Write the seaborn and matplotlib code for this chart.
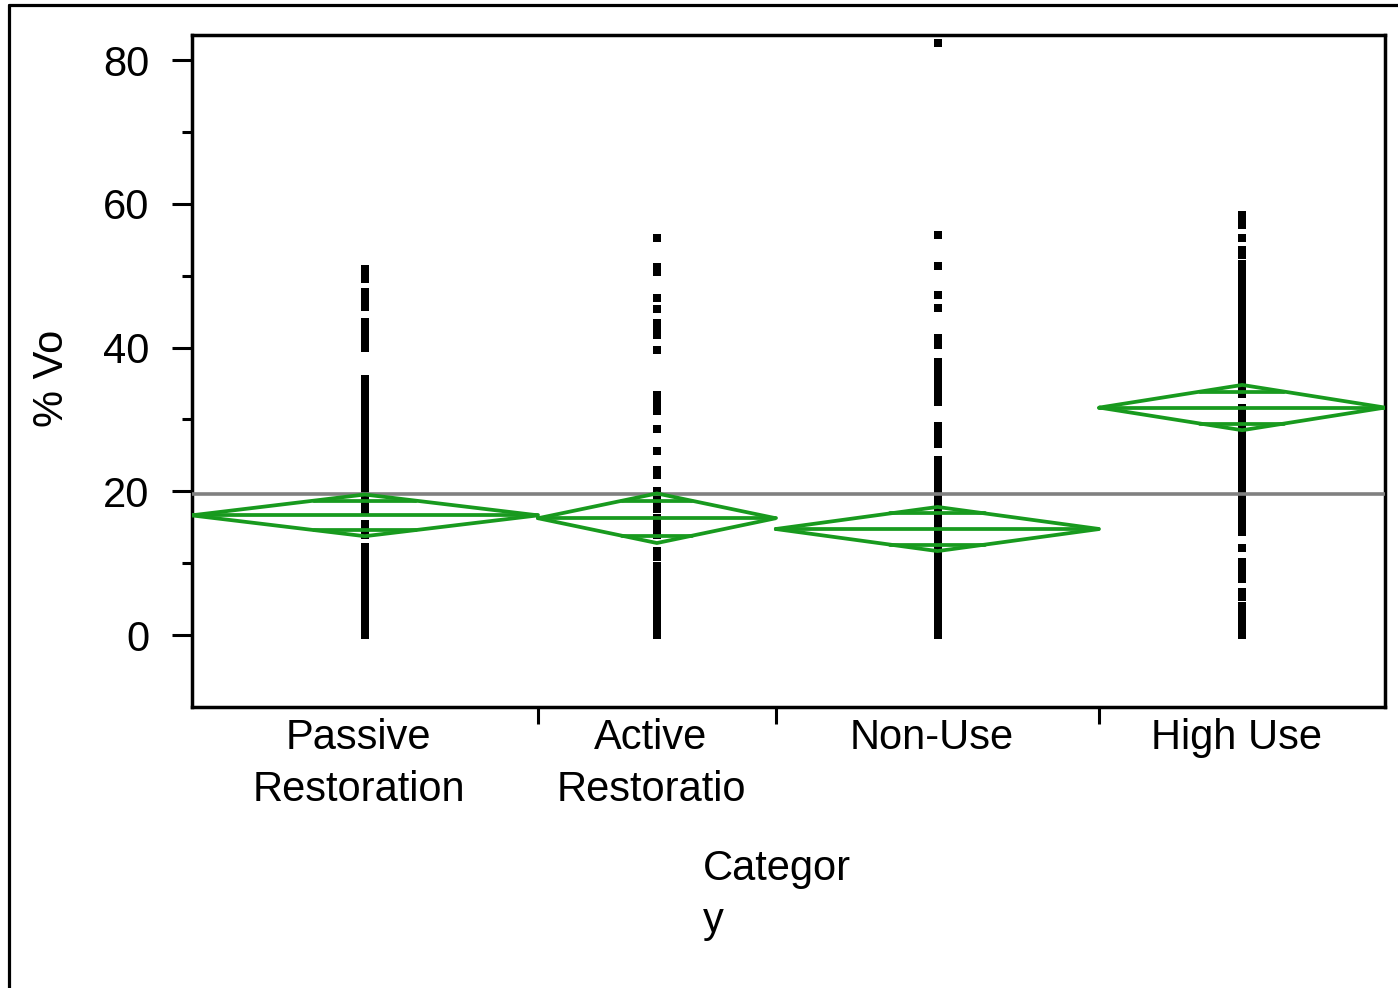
import numpy as np
import pandas as pd
import matplotlib
matplotlib.use("Agg")
import matplotlib.pyplot as plt
import matplotlib.transforms as mtransforms
from matplotlib.lines import Line2D
from matplotlib.ticker import FixedLocator, FixedFormatter
import seaborn as sns

# ---------------- data ----------------
categories = ["Passive\nRestoration", "Active\nRestoratio", "Non-Use", "High Use"]
group_n = [347, 238, 324, 286]            # relative group sizes (diamond widths)
group_means = [16.65, 16.25, 14.75, 31.65]
ci_half = [2.9, 3.45, 3.07, 3.15]
grand_mean = 19.65

passive_vals = [50.9, 50.3, 49.6, 47.7, 47.0, 46.3, 45.6, 43.5, 42.8, 42.0, 41.3,
                40.6, 40.0, 35.6, 34.8, 34.0, 33.2, 32.4, 31.6, 30.8, 30.0, 29.2,
                28.4, 27.6, 26.8, 26.0, 25.2, 24.4, 23.6, 22.8, 22.0, 21.2, 20.4,
                19.6, 18.8, 18.0, 17.2, 15.4, 14.6, 13.9, 12.3, 11.5, 10.7, 9.9,
                9.2, 8.3, 7.5, 6.7, 5.9, 5.1, 4.3, 3.5, 2.7, 1.9, 1.1, 0.3, 0.0]
active_vals = [55.2, 51.2, 50.5, 46.9, 45.3, 43.4, 42.6, 41.8, 39.6, 33.4, 32.6,
               31.9, 31.2, 28.7, 25.6, 23.0, 22.2, 20.0, 19.2, 18.4, 17.6, 16.3,
               15.5, 14.7, 13.9, 11.7, 10.8, 9.6, 8.8, 8.0, 7.2, 6.4, 5.6, 4.8,
               4.0, 3.2, 2.4, 1.6, 0.8, 0.0]
nonuse_vals = [82.4, 55.6, 51.4, 47.3, 45.5, 41.3, 40.3, 38.0, 37.2, 36.4, 35.6,
               34.8, 34.0, 33.2, 32.4, 29.1, 28.3, 27.5, 26.6, 24.3, 23.3, 22.1,
               21.3, 20.5, 19.7, 18.9, 18.1, 17.3, 16.5, 15.7, 14.9, 14.1, 13.3,
               12.5, 11.7, 10.9, 10.1, 9.3, 8.5, 7.7, 6.9, 6.1, 5.3, 4.5, 3.4,
               2.6, 1.8, 1.0, 0.2, 0.0]
highuse_vals = [58.4, 57.6, 57.0, 55.2, 53.6, 52.9, 51.6, 50.9, 50.2, 49.6, 48.8,
                48.0, 47.2, 46.4, 45.6, 44.8, 44.0, 43.2, 42.4, 41.6, 40.8, 40.0,
                39.2, 38.4, 37.6, 36.8, 36.0, 35.2, 34.4, 33.6, 31.6, 30.8, 30.0,
                29.2, 28.4, 27.6, 26.8, 26.0, 25.2, 24.4, 23.2, 22.4, 21.6, 20.8,
                20.0, 19.2, 18.4, 17.6, 16.8, 16.0, 15.2, 14.4, 12.1, 10.2, 9.4,
                8.6, 7.8, 6.0, 5.3, 4.1, 3.3, 2.5, 1.7, 0.9, 0.1, 0.0]
all_vals = [passive_vals, active_vals, nonuse_vals, highuse_vals]

y_major = [0, 20, 40, 60, 80]
y_minor = [-10, 10, 30, 50, 70]

# ---------------- layout helpers ----------------
lefts = np.concatenate([[0], np.cumsum(group_n)[:-1]])
rights = np.cumsum(group_n)
centers = (lefts + rights) / 2.0
total = float(np.sum(group_n))

rows = []
for c, vals in zip(centers, all_vals):
    for v in vals:
        rows.append({"x": c, "y": v})
df = pd.DataFrame(rows)

sns.set_theme(style="white")
plt.rcParams["font.family"] = ["Liberation Sans", "DejaVu Sans"]

W, H = 1398, 988
fig = plt.figure(figsize=(W / 100, H / 100), dpi=100)
ax_l, ax_r, ax_t, ax_b = 191.5, 1385, 35, 706.5
ax = fig.add_axes([ax_l / W, 1 - ax_b / H, (ax_r - ax_l) / W, (ax_b - ax_t) / H])

sns.scatterplot(data=df, x="x", y="y", marker="s", color="black", s=30,
                linewidth=0, ax=ax, zorder=2, legend=False)

ax.axhline(grand_mean, color="#808080", lw=2.6, zorder=3)

green = "#189a1e"
lw_g = 2.7
k = 1 - 1 / np.sqrt(2)
for L, R, c, m, ci in zip(lefts, rights, centers, group_means, ci_half):
    ax.plot([L, c, R, c, L], [m, m + ci, m, m - ci, m], color=green, lw=lw_g,
            zorder=4, solid_joinstyle="miter")
    ax.plot([L, R], [m, m], color=green, lw=lw_g, zorder=4)
    hw = (R - L) / 2 * k
    for s in (1, -1):
        ax.plot([c - hw, c + hw], [m + s * ci / np.sqrt(2)] * 2, color=green,
                lw=lw_g, zorder=4)

ax.set_xlim(0, total)
ax.set_ylim(-9.95, 83.5)

for sp in ax.spines.values():
    sp.set_visible(True)
    sp.set_color("black")
    sp.set_linewidth(2.5)

ax.yaxis.set_major_locator(FixedLocator(y_major))
ax.yaxis.set_minor_locator(FixedLocator(y_minor))
ax.set_yticklabels([str(v) for v in y_major])
ax.tick_params(axis="y", which="major", direction="out", length=14.5, width=2.2,
               color="black", labelsize=30, pad=16, left=True, labelcolor="black")
ax.tick_params(axis="y", which="minor", direction="out", length=7.2, width=2.2,
               color="black", left=True)

ax.xaxis.set_major_locator(FixedLocator(list(rights[:-1])))
ax.xaxis.set_minor_locator(FixedLocator(list(centers)))
ax.set_xticklabels([""] * (len(rights) - 1))
ax.xaxis.set_minor_formatter(FixedFormatter(categories))
ax.tick_params(axis="x", which="major", direction="out", length=12, width=2.2,
               color="black", bottom=True)
ax.tick_params(axis="x", which="minor", length=0, labelsize=30, pad=8,
               bottom=True, labelcolor="black")
off = mtransforms.ScaledTranslation(-6 / 100, 0, fig.dpi_scale_trans)
for lbl in ax.xaxis.get_minorticklabels():
    lbl.set_linespacing(1.4)
    lbl.set_multialignment("center")
    lbl.set_transform(lbl.get_transform() + off)

ax.set_ylabel("% Vo", fontsize=30, color="black")
ax.yaxis.label.set_va("center")
ax.yaxis.set_label_coords((52 - ax_l) / (ax_r - ax_l), (ax_b - 378) / (ax_b - ax_t))

ax.set_xlabel("Categor\ny", fontsize=30, color="black", linespacing=1.4,
              ha="left", multialignment="left")
ax.xaxis.set_label_coords((703 - ax_l) / (ax_r - ax_l), -(849 - ax_b) / (ax_b - ax_t))

ax.grid(False)

# outer frame (top and left edges visible)
fig.add_artist(Line2D([9 / W, 1.02], [1 - 5.5 / H, 1 - 5.5 / H], color="black",
                      lw=2.3, transform=fig.transFigure))
fig.add_artist(Line2D([9 / W, 9 / W], [1 - 5.5 / H, -0.02], color="black",
                      lw=2.3, transform=fig.transFigure))

fig.savefig("out.png", dpi=100, facecolor="white")
